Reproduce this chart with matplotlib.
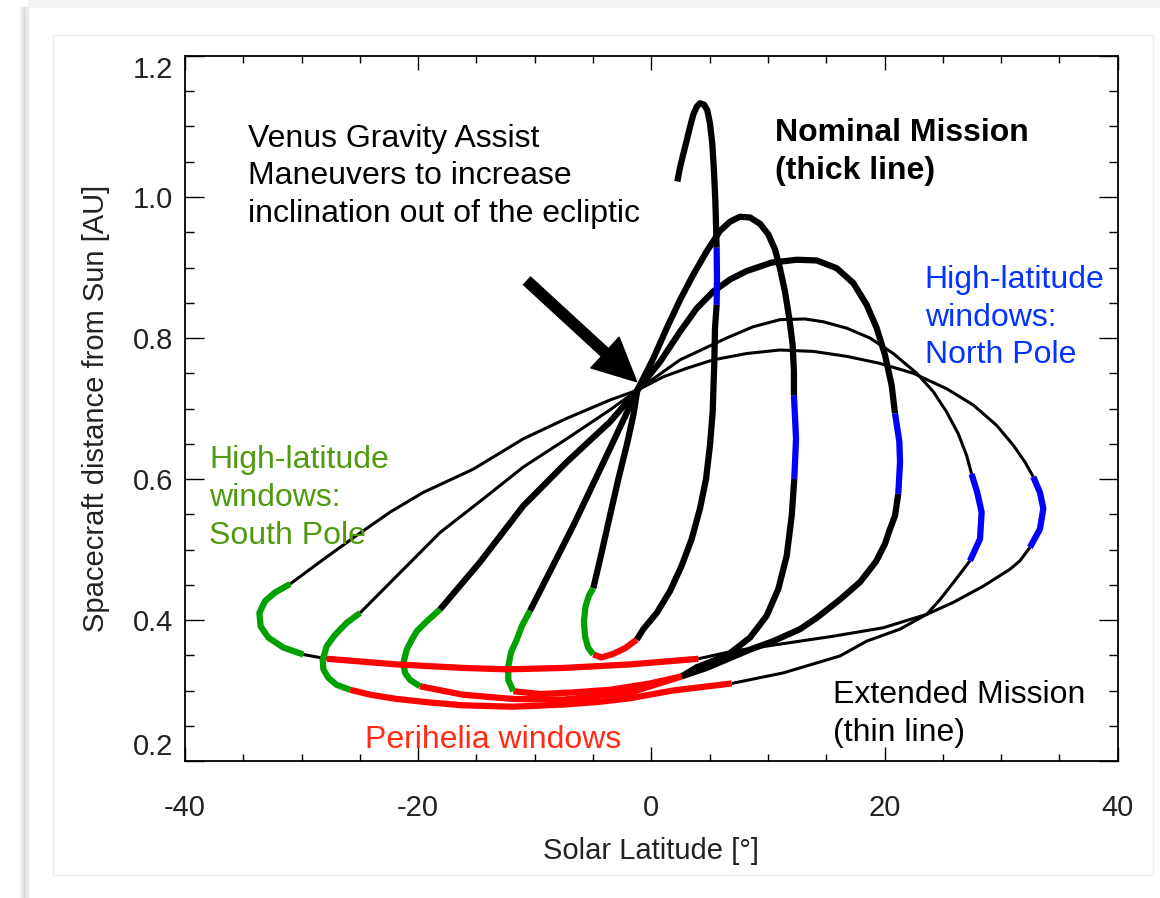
import matplotlib.pyplot as plt
from matplotlib.patches import FancyArrowPatch, Rectangle

plt.rcParams['font.family'] = ['Liberation Sans', 'DejaVu Sans']
plt.rcParams['axes.unicode_minus'] = False

# Orbit tracks: solar latitude [deg] and distance from the Sun [AU].
# The phase letter belongs to the leg that starts at that point:
#   c = cruise, n = north-pole window, p = perihelion window, s = south-pole window
orb1_lat = [2.23, 2.46, 2.74, 3.03, 3.31, 3.60, 3.89, 4.17, 4.52, 4.80, 5.03, 5.23,
            5.37, 5.49, 5.57,
            5.60, 5.63,
            5.60, 5.46, 5.40, 5.26, 5.03, 4.69, 4.17, 3.46, 2.60, 1.60, 0.46, -0.69,
            -1.26, -2.26, -3.26, -4.26,
            -4.98, -5.43, -5.69, -5.78, -5.65, -5.35,
            -4.98, -4.26, -3.55, -2.83, -2.11, -1.55, -1.20]
orb1_r = [1.022, 1.042, 1.061, 1.080, 1.099, 1.117, 1.128, 1.133, 1.131, 1.123, 1.104, 1.075,
          1.037, 0.994, 0.947,
          0.928, 0.885,
          0.847, 0.814, 0.766, 0.695, 0.648, 0.600, 0.558, 0.515, 0.477, 0.441, 0.410, 0.387,
          0.372, 0.360, 0.352, 0.347,
          0.351, 0.361, 0.377, 0.398, 0.419, 0.435,
          0.445, 0.496, 0.548, 0.600, 0.648, 0.690, 0.726]
orb1_phase = "c" * 15 + "n" * 2 + "c" * 12 + "p" * 4 + "s" * 6 + "c" * 7

orb2_lat = [-1.20, 0.17, 1.32, 2.46, 3.60, 4.75, 5.89, 6.75, 7.60, 8.46, 9.32, 10.03,
            10.60, 11.03, 11.46, 11.83, 12.12, 12.23,
            12.23, 12.41,
            12.26, 12.04, 11.61, 10.89, 9.89, 8.46, 6.75, 5.29, 3.89,
            2.60, -0.12, -3.55, -6.98, -9.55,
            -11.84, -12.27, -12.27, -12.04, -11.55, -11.09,
            -10.41, -6.69, -3.55, -1.20]
orb2_r = [0.726, 0.771, 0.814, 0.854, 0.890, 0.923, 0.952, 0.965, 0.972, 0.971, 0.962, 0.947,
          0.926, 0.899, 0.866, 0.828, 0.790, 0.752,
          0.719, 0.657,
          0.600, 0.548, 0.491, 0.444, 0.406, 0.375, 0.353, 0.342, 0.333,
          0.320, 0.310, 0.301, 0.297, 0.295,
          0.299, 0.315, 0.334, 0.354, 0.372, 0.392,
          0.413, 0.534, 0.643, 0.726]
orb2_phase = "c" * 18 + "n" * 2 + "c" * 9 + "p" * 5 + "s" * 6 + "c" * 4

orb3_lat = [-1.20, 0.74, 2.46, 3.89, 5.31, 6.75, 8.18, 10.32, 12.47, 14.18, 15.90,
            17.32, 18.47, 19.33, 20.04, 20.61,
            20.90, 21.27, 21.33,
            21.18, 20.90, 20.47, 20.04, 19.27, 17.91, 16.18, 14.18, 12.75, 10.46,
            8.46, 6.46, 4.75,
            2.60, -1.83, -7.58, -11.87, -16.15,
            -19.84, -20.70, -21.13, -21.27, -20.98, -20.55, -20.12, -19.27,
            -18.13, -14.70, -10.98, -7.26, -3.55, -1.20]
orb3_r = [0.726, 0.766, 0.809, 0.842, 0.866, 0.883, 0.895, 0.907, 0.911, 0.910, 0.899,
          0.878, 0.847, 0.814, 0.776, 0.733,
          0.693, 0.653, 0.624,
          0.579, 0.548, 0.529, 0.508, 0.483, 0.454, 0.429, 0.403, 0.387, 0.370,
          0.358, 0.344, 0.332,
          0.320, 0.297, 0.287, 0.288, 0.294,
          0.306, 0.315, 0.325, 0.339, 0.358, 0.372, 0.384, 0.398,
          0.415, 0.482, 0.562, 0.624, 0.681, 0.726]
orb3_phase = "c" * 16 + "n" * 3 + "c" * 13 + "p" * 5 + "s" * 8 + "c" * 6

orb4_lat = [-1.20, 2.46, 6.46, 8.74, 11.03, 13.18, 14.75, 16.75, 18.75, 20.75, 22.76,
            24.18, 25.33, 26.33, 27.05,
            27.47, 27.95, 28.33, 28.19,
            27.33, 25.90, 24.76, 23.62, 21.32, 18.47, 16.18, 11.32,
            6.89, 1.86, -1.83, -4.40, -7.58, -11.87, -16.15, -18.99, -21.84, -24.10,
            -25.84, -26.99, -27.70, -28.13, -28.19, -27.84, -27.13, -26.13,
            -24.99, -21.56, -18.13, -14.41, -10.98, -7.26, -3.55, -1.20]
orb4_r = [0.726, 0.769, 0.800, 0.816, 0.826, 0.827, 0.823, 0.814, 0.800, 0.778, 0.750,
          0.724, 0.695, 0.664, 0.633,
          0.607, 0.581, 0.553, 0.515,
          0.484, 0.453, 0.429, 0.408, 0.387, 0.370, 0.349, 0.325,
          0.310, 0.300, 0.289, 0.284, 0.280, 0.277, 0.279, 0.283, 0.288, 0.294,
          0.301, 0.308, 0.318, 0.330, 0.344, 0.363, 0.379, 0.396,
          0.410, 0.467, 0.524, 0.572, 0.617, 0.657, 0.698, 0.726]
orb4_phase = "c" * 15 + "n" * 4 + "c" * 8 + "p" * 10 + "s" * 8 + "c" * 8

orb5_lat = [-1.20, 1.03, 3.03, 5.31, 8.18, 11.03, 13.89, 16.75, 19.61, 22.47, 25.33,
            27.61, 29.62, 31.04, 32.05,
            32.76, 33.33, 33.62, 33.33,
            32.47, 31.62, 30.76, 28.47, 25.90, 23.62, 19.89, 15.60, 9.89, 7.03,
            4.03, -1.83, -7.55, -12.41, -16.13, -21.84,
            -27.84,
            -29.85, -31.57, -32.85, -33.51, -33.62, -33.13, -32.28,
            -30.99, -28.13, -25.27, -22.41, -19.56, -15.27, -10.98, -7.26, -3.55, -1.20]
orb5_r = [0.726, 0.745, 0.757, 0.769, 0.778, 0.783, 0.781, 0.774, 0.764, 0.750, 0.728,
          0.705, 0.676, 0.648, 0.624,
          0.603, 0.581, 0.558, 0.529,
          0.503, 0.484, 0.472, 0.448, 0.425, 0.408, 0.389, 0.377, 0.363, 0.356,
          0.345, 0.337, 0.332, 0.330, 0.332, 0.337,
          0.345,
          0.351, 0.361, 0.375, 0.391, 0.410, 0.427, 0.439,
          0.451, 0.486, 0.520, 0.553, 0.581, 0.614, 0.657, 0.686, 0.712, 0.726]
orb5_phase = "c" * 15 + "n" * 4 + "c" * 10 + "p" * 6 + "c" + "s" * 7 + "c" * 10

# nominal mission orbits are drawn thick, extended mission thin
orbits = [
    (orb1_lat, orb1_r, orb1_phase, True),
    (orb2_lat, orb2_r, orb2_phase, True),
    (orb3_lat, orb3_r, orb3_phase, True),
    (orb4_lat, orb4_r, orb4_phase, False),
    (orb5_lat, orb5_r, orb5_phase, False),
]

PHASE_COLOR = {'c': 'black', 'n': '#0000ff', 'p': '#ff0000', 's': '#00a000'}
LW_THICK, LW_THIN = 4.5, 2.2


def draw_orbit(ax, lat, r, phase, thick):
    n = len(lat) - 1
    i = 0
    while i < n:
        j = i
        while j + 1 < n and phase[j + 1] == phase[i]:
            j += 1
        ph = phase[i]
        lw = LW_THICK if (thick or ph != 'c') else LW_THIN
        ax.plot(lat[i:j + 2], r[i:j + 2], color=PHASE_COLOR[ph], lw=lw,
                solid_capstyle='butt', solid_joinstyle='round',
                zorder=3 if ph != 'c' else 2)
        i = j + 1


W, H = 1160, 898
fig = plt.figure(figsize=(W / 100, H / 100), dpi=100)

# page edge / drop shadow around the slide
fig.patches.append(Rectangle((28 / W, 1 - 7 / H), 1, 7 / H, transform=fig.transFigure,
                             color='#f3f3f3', zorder=0))
for x0, c in [(20, '#f1f1f1'), (22, '#e6e6e6'), (24, '#dadada'), (26, '#ececec')]:
    fig.patches.append(Rectangle((x0 / W, 0), 2 / W, 1 - 7 / H, transform=fig.transFigure,
                                 color=c, zorder=0))
fig.patches.append(Rectangle((53 / W, 1 - 875 / H), (1153 - 53) / W, (875 - 35) / H,
                             transform=fig.transFigure, fill=False, ec='#efefef',
                             lw=1.0, zorder=0))

ax = fig.add_axes([185 / W, 1 - 761 / H, (1117.7 - 185) / W, (761 - 56) / H])

for lat, r, phase, thick in orbits:
    draw_orbit(ax, lat, r, phase, thick)

ax.set_xlim(-40, 40)
ax.set_ylim(0.2, 1.2)
ax.set_xticks([-40, -20, 0, 20, 40])
ax.set_xticks(range(-35, 40, 5), minor=True)
ax.set_yticks([0.2, 0.4, 0.6, 0.8, 1.0, 1.2])
ax.set_yticks([0.25, 0.3, 0.35, 0.45, 0.5, 0.55, 0.65, 0.7, 0.75, 0.85, 0.9, 0.95,
               1.05, 1.1, 1.15], minor=True)
ax.set_xticklabels(['-40', '-20', '0', '20', '40'])
ax.set_yticklabels(['0.2', '0.4', '0.6', '0.8', '1.0', '1.2'])
ylabels = ax.get_yticklabels()
ylabels[0].set_va('bottom')
ylabels[-1].set_va('top')

ax.tick_params(axis='both', which='both', direction='in', top=True, right=True,
               width=1.0, colors='black', labelcolor='#222222', labelsize=21)
ax.tick_params(axis='x', which='major', length=10, pad=24)
ax.tick_params(axis='x', which='minor', length=5)
ax.tick_params(axis='y', which='major', length=13.4, pad=8.5)
ax.tick_params(axis='y', which='minor', length=6.7)
for sp in ax.spines.values():
    sp.set_linewidth(1.3)

ax.set_xlabel('Solar Latitude [°]', fontsize=21, color='#222222')
ax.set_ylabel('Spacecraft distance from Sun [AU]', fontsize=21, color='#222222')
ax.xaxis.set_label_coords(0.5, -0.108)
ax.yaxis.set_label_coords(-0.080, 0.5)

# annotations
txt = dict(fontsize=23, linespacing=1.34, va='top', ha='left', zorder=5)
ax.text(-34.6, 1.104, 'Venus Gravity Assist\nManeuvers to increase\n'
        'inclination out of the ecliptic', color='black', **txt)
ax.text(10.6, 1.112, 'Nominal Mission\n(thick line)', color='black',
        fontweight='bold', **txt)
ax.text(23.46, 0.904, 'High-latitude\nwindows:\nNorth Pole', color='#0433ff', **txt)
ax.text(-37.91, 0.648, 'High-latitude\nwindows:\nSouth Pole', color='#4f9a0f', **txt)
ax.text(-24.56, 0.251, 'Perihelia windows', color='#ff2b14', **txt)
ax.text(15.6, 0.315, 'Extended Mission\n(thin line)', color='black', **txt)

arrow = FancyArrowPatch(posA=(-10.66, 0.881), posB=(-1.26, 0.738),
                        arrowstyle='simple,head_length=31,head_width=30,tail_width=7.5',
                        mutation_scale=1, color='black', shrinkA=0, shrinkB=0, zorder=6)
ax.add_patch(arrow)

fig.savefig('out.png', dpi=100)
